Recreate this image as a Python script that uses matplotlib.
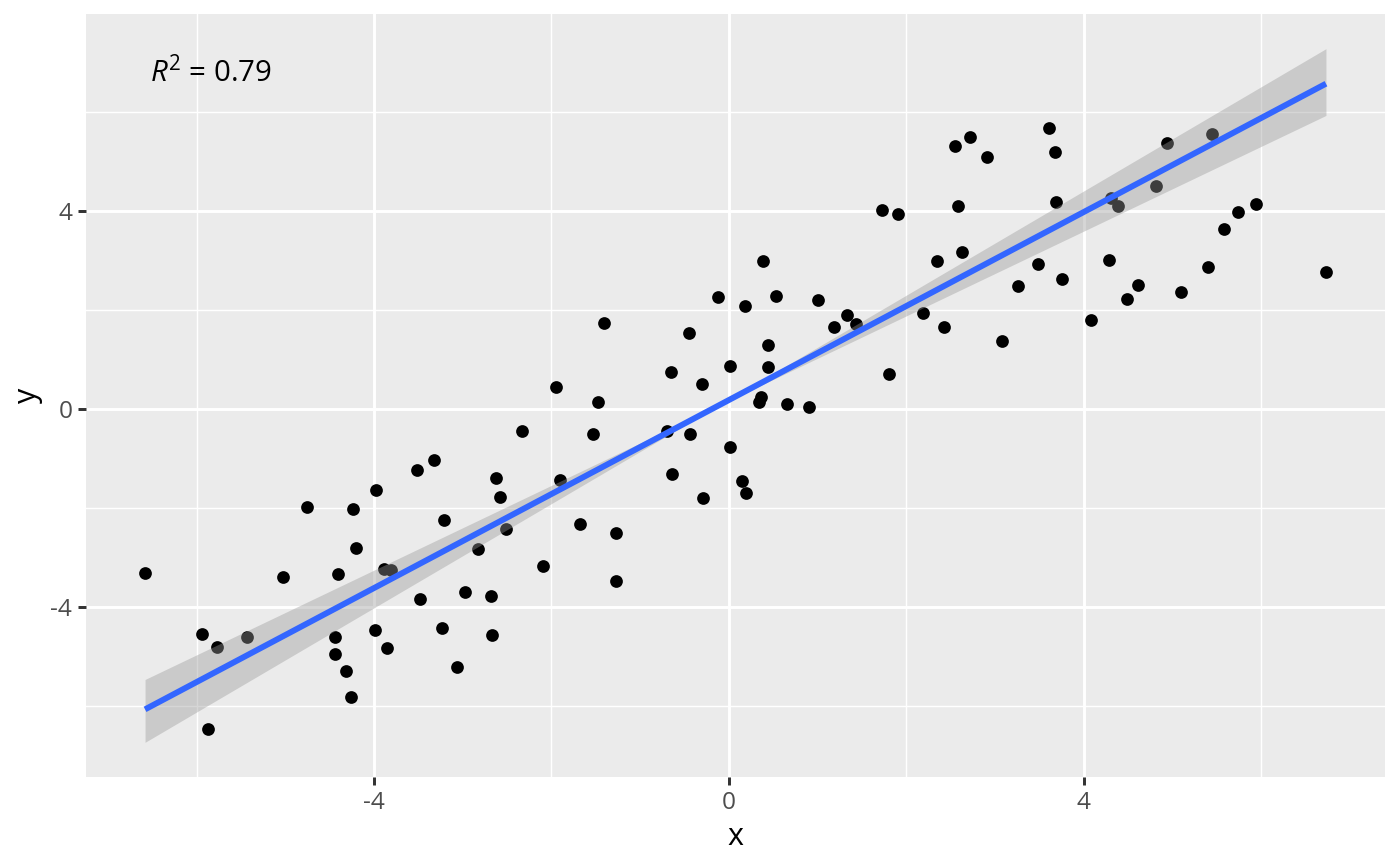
import numpy as np
import matplotlib
matplotlib.use("Agg")
import matplotlib.pyplot as plt

# ---- data ----
x = [-6.58, -5.94, -5.87, -5.77, -5.43, -5.03, -4.76, -4.44, -4.44, -4.40,
     -4.32, -4.26, -4.24, -4.20, -3.99, -3.98, -3.89, -3.85, -3.81, -3.52,
     -3.48, -3.32, -3.23, -3.21, -3.06, -2.97, -2.83, -2.68, -2.67, -2.62,
     -2.58, -2.51, -2.33, -2.09, -1.95, -1.90, -1.68, -1.53, -1.47, -1.41,
     -1.27, -1.27, -0.70, -0.65, -0.64, -0.45, -0.44, -0.30, -0.29, -0.12,
     0.01, 0.01, 0.15, 0.18, 0.19, 0.34, 0.36, 0.38, 0.44, 0.44,
     0.53, 0.66, 0.90, 1.00, 1.19, 1.33, 1.43, 1.73, 1.80, 1.91,
     2.19, 2.35, 2.43, 2.55, 2.58, 2.63, 2.72, 2.91, 3.08, 3.26,
     3.49, 3.61, 3.68, 3.69, 3.76, 4.08, 4.29, 4.31, 4.39, 4.49,
     4.61, 4.81, 4.94, 5.10, 5.40, 5.44, 5.58, 5.74, 5.94, 6.73]
y = [-3.31, -4.54, -6.45, -4.80, -4.60, -3.39, -1.98, -4.60, -4.94, -3.33,
     -5.28, -5.81, -2.02, -2.80, -4.46, -1.63, -3.23, -4.82, -3.25, -1.23,
     -3.83, -1.03, -4.42, -2.24, -5.20, -3.69, -2.82, -3.77, -4.56, -1.39,
     -1.77, -2.42, -0.44, -3.17, 0.44, -1.43, -2.32, -0.50, 0.14, 1.75,
     -2.50, -3.47, -0.44, 0.75, -1.31, 1.53, -0.50, 0.50, -1.79, 2.26,
     0.87, -0.77, -1.45, 2.08, -1.69, 0.14, 0.24, 3.00, 1.29, 0.85,
     2.28, 0.10, 0.04, 2.20, 1.67, 1.90, 1.73, 4.03, 0.71, 3.95,
     1.94, 3.00, 1.67, 5.32, 4.11, 3.17, 5.50, 5.10, 1.37, 2.48,
     2.94, 5.69, 5.20, 4.19, 2.64, 1.81, 3.02, 4.27, 4.11, 2.22,
     2.50, 4.50, 5.38, 2.36, 2.88, 5.56, 3.65, 3.99, 4.15, 2.78]
x_ticks = [-4, 0, 4]
y_ticks = [-4, 0, 4]
x_minor = [-6, -2, 2, 6]
y_minor = [-6, -2, 2, 6]
label_text = r"$R^2$ = 0.79"

# ---- style ----
plt.rcParams['font.family'] = ['Open Sans', 'DejaVu Sans']
plt.rcParams['mathtext.fontset'] = 'custom'
plt.rcParams['mathtext.rm'] = 'Open Sans'
plt.rcParams['mathtext.it'] = 'Open Sans:italic'
plt.rcParams['axes.unicode_minus'] = False

xa = np.array(x); ya = np.array(y)
n = len(xa)

# ---- major-axis (MA) regression with Jolicoeur & Mosimann CI (lmodel2 style) ----
xbar, ybar = xa.mean(), ya.mean()
cov = np.cov(xa, ya)
sxx, syy, sxy = cov[0, 0], cov[1, 1], cov[0, 1]
root = np.sqrt((syy - sxx) ** 2 + 4 * sxy ** 2)
b_ma = (syy - sxx + root) / (2 * sxy)
lam1 = (sxx + syy + root) / 2
lam2 = (sxx + syy - root) / 2
F = 1.984467 ** 2  # qf(0.95, 1, 98)
H = F / ((lam1 / lam2 + lam2 / lam1 - 2) * (n - 2))
A = np.sqrt(H / (1 - 4 * H))
b_lo = (b_ma - A) / (1 + b_ma * A)
b_hi = (b_ma + A) / (1 - b_ma * A)

xs = np.linspace(xa.min(), xa.max(), 80)
fit = ybar + b_ma * (xs - xbar)
l1 = ybar + b_lo * (xs - xbar)
l2 = ybar + b_hi * (xs - xbar)
lo = np.minimum(l1, l2)
hi = np.maximum(l1, l2)

fig = plt.figure(figsize=(7, 4.33), dpi=200)
ax = fig.add_axes([86 / 1400, 89 / 866, 1299 / 1400, 763 / 866])
ax.set_facecolor('#EBEBEB')
for sp in ax.spines.values():
    sp.set_visible(False)

ax.scatter(xa, ya, s=21, color='black', linewidths=0, zorder=2)
ax.fill_between(xs, lo, hi, color='#999999', alpha=0.4, linewidth=0, zorder=3)
ax.plot(xs, fit, color='#3366FF', linewidth=2.13, zorder=4, solid_capstyle='butt')

# limits with 5% expansion
xmin, xmax = xa.min(), xa.max()
ymin = min(ya.min(), lo.min()); ymax = max(ya.max(), hi.max())
dx = (xmax - xmin) * 0.05; dy = (ymax - ymin) * 0.05
ax.set_xlim(xmin - dx, xmax + dx)
ax.set_ylim(ymin - dy, ymax + dy)

ax.set_xticks(x_ticks)
ax.set_yticks(y_ticks)
ax.set_xticks(x_minor, minor=True)
ax.set_yticks(y_minor, minor=True)
ax.set_xticklabels([str(t) for t in x_ticks])
ax.set_yticklabels([str(t) for t in y_ticks])
ax.grid(which='major', color='white', linewidth=1.07, zorder=0)
ax.grid(which='minor', color='white', linewidth=0.53, zorder=0)
ax.set_axisbelow(True)
ax.tick_params(which='major', length=2.75, width=1.07, color='#333333',
               labelsize=8.8, labelcolor='#4D4D4D', pad=2.2)
ax.tick_params(which='minor', length=0)

ax.set_xlabel('x', fontsize=11, color='black', labelpad=2.75)
ax.set_ylabel('y', fontsize=11, color='black', labelpad=2.75)

ax.text(0.049, 0.911, label_text, transform=ax.transAxes, fontsize=10.6,
        ha='left', va='baseline', color='black')

fig.savefig('out.png', dpi=200, facecolor='white')
